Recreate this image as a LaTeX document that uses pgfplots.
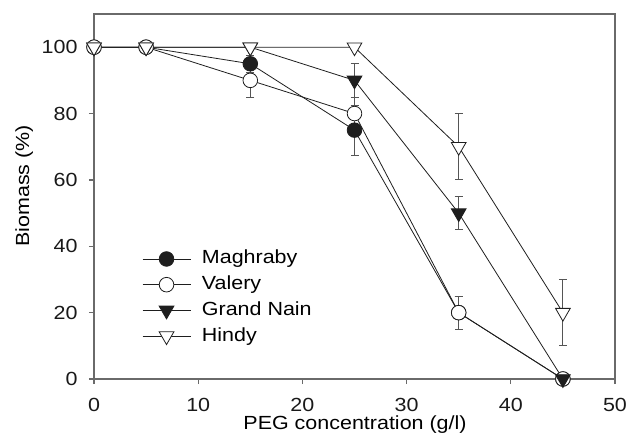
\documentclass[border=0pt]{standalone}
\usepackage{pgfplots}
\pgfplotsset{compat=1.18}
\usepackage{pgfplotstable}
\usepackage{fontspec}
\setmainfont{Liberation Sans}[FakeStretch=1.13]
\definecolor{axgray}{HTML}{6A6A6A}
\definecolor{ln}{HTML}{1E1E1E}
\definecolor{ebar}{HTML}{555555}
\pgfplotstableread{
x y e
0 100 0
5 100 0
15 95 2.5
25 75 7.5
35 20 5
45 0 0
}\maghraby
\pgfplotstableread{
x y e
0 100 0
5 100 0
15 90 5
25 80 5
35 20 5
45 0 0
}\valery
\pgfplotstableread{
x y e
0 100 0
5 100 0
15 100 0
25 90 5
35 50 5
45 0 0
}\grandnain
\pgfplotstableread{
x y e
0 100 0
5 100 0
15 100 0
25 100 0
35 70 10
45 20 10
}\hindy
\begin{document}
\fontsize{19bp}{22bp}\selectfont
\begin{tikzpicture}
\useasboundingbox (0,0) rectangle (628bp,435bp);
\begin{axis}[
  at={(94bp,56bp)}, anchor=south west,
  scale only axis, width=521bp, height=365bp,
  xmin=0, xmax=50, ymin=0, ymax=110,
  xtick={0,10,...,50}, ytick={0,20,...,100},
  tick align=outside, tick pos=left,
  major tick length=5bp,
  axis line style={draw=axgray, line width=1.2bp},
  every tick/.style={draw=axgray, line width=1.2bp},
  /pgf/number format/assume math mode=true,
  ticklabel style={text=black!90},
  xticklabel style={yshift=-7.5bp},
  yticklabel style={xshift=-5bp},
  xlabel={PEG concentration (g/l)},
  ylabel={Biomass (\%)},
  xlabel style={at={(axis description cs:0.501,-0.139)}, anchor=base, inner sep=0pt},
  ylabel style={at={(axis description cs:-0.134,0.529)}, anchor=center},
  clip=false,
  legend style={at={(axis description cs:0.092,0.354)}, anchor=north west,
    draw=none, fill=none, inner sep=0pt,
    nodes={inner sep=0pt, text height=14bp, text depth=4bp, anchor=west},
    row sep=7.7bp, column sep=11bp},
  legend cell align=left,
  legend image code/.code={
    \draw[#1, mark repeat=2, mark phase=2] plot coordinates {(0bp,0bp) (24bp,0bp) (48bp,0bp)};
  },
  every axis plot/.append style={color=ln, line width=0.8bp},
  error bars/y dir=both, error bars/y explicit,
  error bars/error bar style={color=ebar, line width=0.9bp},
  error bars/error mark options={rotate=90, mark size=4bp, color=ebar, line width=0.9bp},
]
\addplot[mark=*, mark size=7.3bp, mark options={fill=ln, draw=ln, line width=0.8bp}]
  table[x=x, y=y, y error=e] {\maghraby};
\addlegendentry{Maghraby}
\addplot[mark=*, mark size=7.3bp, mark options={fill=white, draw=ln, line width=0.8bp}]
  table[x=x, y=y, y error=e] {\valery};
\addlegendentry{Valery}
\addplot[mark=triangle*, mark size=8.5bp, mark options={rotate=180, fill=ln, draw=ln, line width=0.8bp}]
  table[x=x, y=y, y error=e] {\grandnain};
\addlegendentry{Grand Nain}
\addplot[mark=triangle*, mark size=8.5bp, mark options={rotate=180, fill=white, draw=ln, line width=0.8bp}]
  table[x=x, y=y, y error=e] {\hindy};
\addlegendentry{Hindy}
\end{axis}
\end{tikzpicture}
\end{document}
